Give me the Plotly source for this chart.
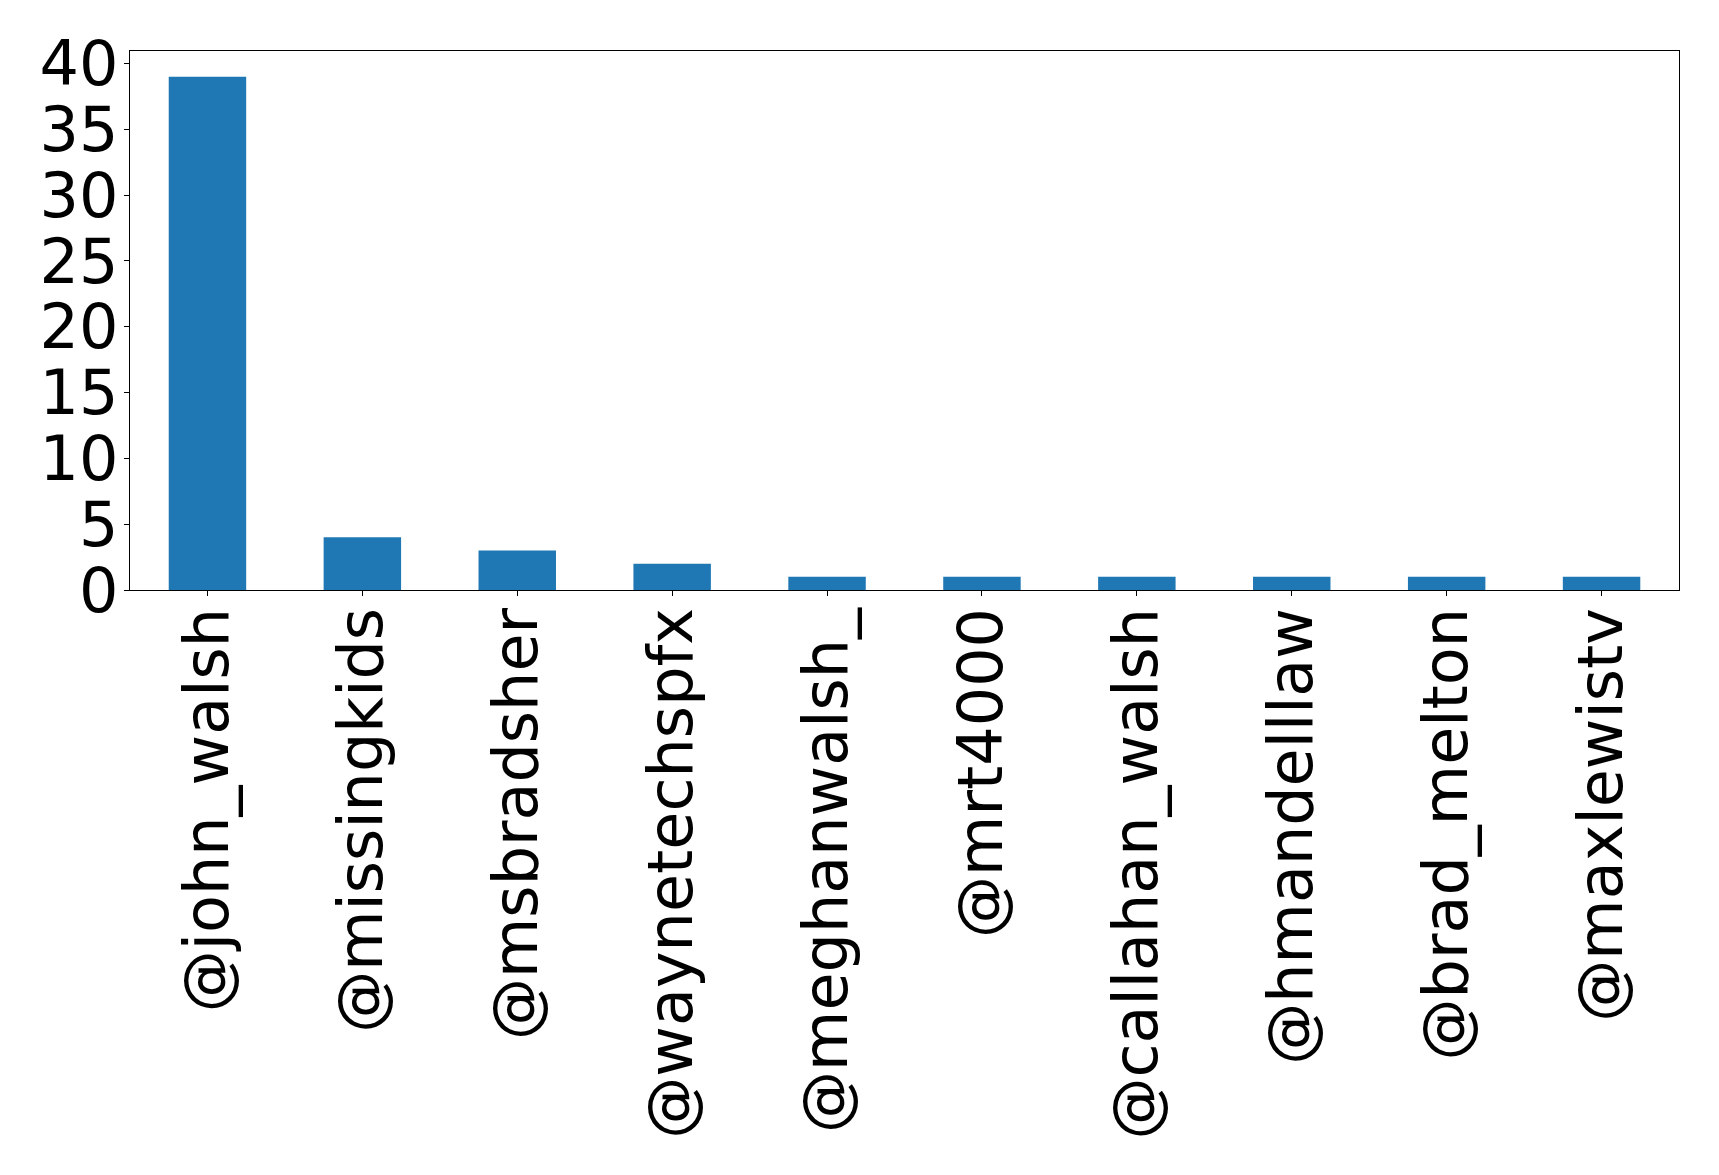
import plotly.graph_objects as go

handles = ["@john_walsh", "@missingkids", "@msbradsher", "@waynetechspfx", "@meghanwalsh_",
           "@mrt4000", "@callahan_walsh", "@hmandelllaw", "@brad_melton", "@maxlewistv"]
counts = [39, 4, 3, 2, 1, 1, 1, 1, 1, 1]
y_ticks = [0, 5, 10, 15, 20, 25, 30, 35, 40]

fig = go.Figure(go.Bar(x=list(range(len(handles))), y=counts, width=0.5,
                       marker=dict(color="#1f77b4", line=dict(width=0))))

axis_common = dict(showline=True, linecolor="black", linewidth=1.3, mirror=True,
                   ticks="outside", ticklen=5, tickwidth=1.1, tickcolor="black",
                   showgrid=False, zeroline=False, automargin=False,
                   tickfont=dict(family="DejaVu Sans", size=62, color="black"))

fig.update_layout(
    width=1703, height=1159,
    margin=dict(l=122, r=32, t=43, b=577),
    paper_bgcolor="white", plot_bgcolor="white",
    showlegend=False,
    xaxis=dict(range=[-0.5, 9.5], tickmode="array", tickvals=list(range(len(handles))),
               ticktext=handles, tickangle=-90, ticklabelstandoff=-13, **axis_common),
    yaxis=dict(range=[0, 40.95], tickmode="array", tickvals=y_ticks,
               ticktext=[str(v) for v in y_ticks], ticklabelstandoff=-7, **axis_common),
)

fig.write_html("out.html")
